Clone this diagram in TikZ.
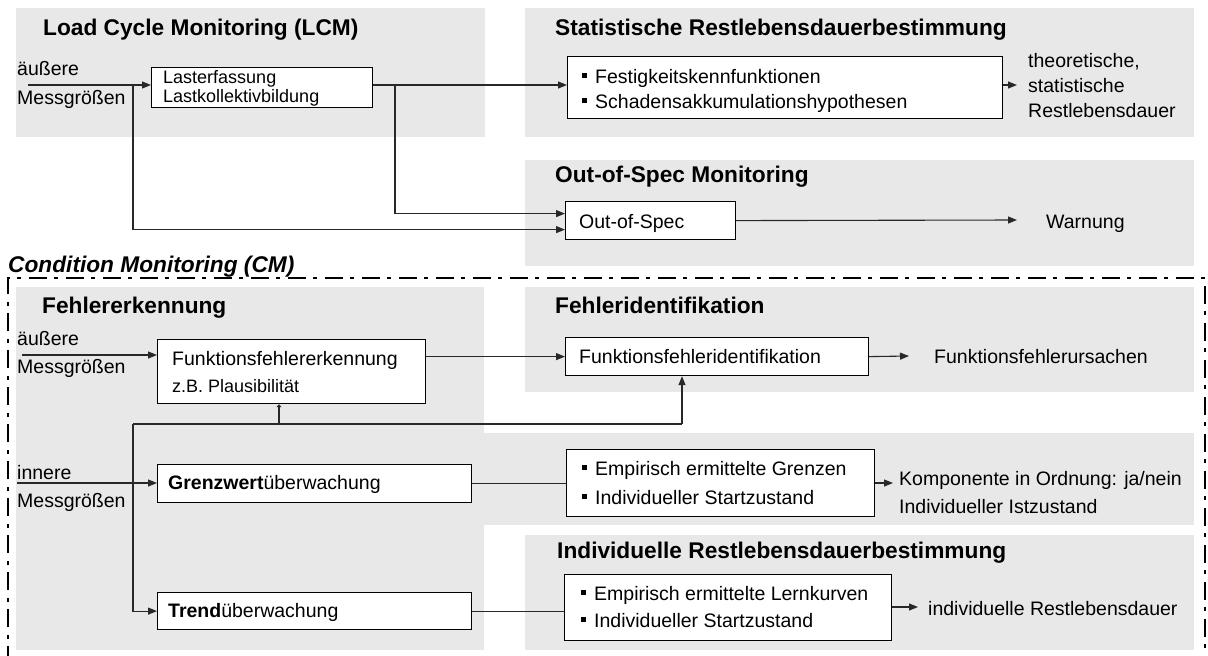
\documentclass[tikz,border=0pt]{standalone}
\usepackage{fontspec}
\setmainfont{Liberation Sans}
\usetikzlibrary{arrows.meta}
\definecolor{panelgray}{RGB}{232,232,232}
\definecolor{linecol}{RGB}{40,40,40}
\newcommand{\blt}{\rule[5.5pt]{4.5pt}{4.5pt}\hspace{8.5pt}}
\begin{document}
\begin{tikzpicture}[x=1pt,y=-1pt,
  panel/.style={fill=panelgray},
  box/.style={draw=black, line width=1.2pt, fill=white, rectangle, inner sep=0pt, anchor=north west},
  txt/.style={inner sep=0pt, anchor=base west, font=\fontsize{19.5}{23}\selectfont},
  smalltxt/.style={inner sep=0pt, anchor=base west, font=\fontsize{18}{22}\selectfont},
  ttl/.style={inner sep=0pt, anchor=base west, font=\fontsize{22.7}{27}\selectfont\bfseries},
  con/.style={draw=linecol, line width=1.1pt},
  arr/.style={draw=linecol, line width=1.1pt, -{Triangle[length=9pt,width=7pt]}},
  smallarr/.style={draw=linecol, line width=1.1pt, -{Triangle[length=3pt,width=5pt]}},
  cmborder/.style={draw=black, line width=2.2pt, dash pattern=on 18pt off 7pt on 4pt off 8pt}
]
\useasboundingbox (0,0) rectangle (1208,656);

% panels
\fill[panel] (16,8) rectangle (485,137);
\fill[panel] (525,8) rectangle (1194,137);
\fill[panel] (525,160) rectangle (1194,266);
\fill[panel] (16,287) rectangle (484,650);
\fill[panel] (525,287) rectangle (1194,392);
\fill[panel] (484,433) rectangle (1194,525);
\fill[panel] (525,535) rectangle (1194,650);

% condition monitoring border
\draw[cmborder] (8,664) -- (8,278) -- (1205,278) -- (1205,664);

% titles
\node[ttl] (tlcm) at (43,35) {Load Cycle Monitoring (LCM)};
\node[ttl] (tstat) at (555,35) {Statistische Restlebensdauerbestimmung};
\node[ttl] (toos) at (555,182) {Out-of-Spec Monitoring};
\node[ttl, font=\fontsize{22.7}{27}\selectfont\bfseries\itshape] (tcm) at (8,272) {Condition Monitoring (CM)};
\node[ttl] (tfe) at (42,313) {Fehlererkennung};
\node[ttl] (tfi) at (555,313) {Fehleridentifikation};
\node[ttl] (tirl) at (557,558) {Individuelle Restlebensdauerbestimmung};

% ---------- LCM ----------
\node[txt] (lcmA) at (17,75) {äußere};
\node[txt] (lcmB) at (17,104) {Messgrößen};
\node[box, minimum width=221pt, minimum height=40pt] (las) at (151,67) {};
\node[smalltxt] (lasA) at (163,83) {Lasterfassung};
\node[smalltxt] (lasB) at (163,102) {Lastkollektivbildung};

\node[box, minimum width=435pt, minimum height=62pt] (stat) at (567,56) {};
\node[txt] (statA) at (582,83) {\blt Festigkeitskennfunktionen};
\node[txt] (statB) at (582,108) {\blt Schadensakkumulationshypothesen};
\node[txt] (resA) at (1028,67) {theoretische,};
\node[txt] (resB) at (1028,92) {statistische};
\node[txt] (resC) at (1028,117) {Restlebensdauer};

\node[box, minimum width=170pt, minimum height=38pt] (oos) at (565,201) {};
\node[txt] (oosT) at (579,228) {Out-of-Spec};
\node[txt] (warn) at (1046,228) {Warnung};

\coordinate (lcmin) at (28,85);
\coordinate (b1) at (133,85);
\coordinate (b2) at (395,85);
\coordinate (statout) at (1017,85);
\coordinate (oosout) at (1017,220);

\draw[arr] (lcmin) -- (lcmin -| las.west);
\draw[arr] (b2 -| las.east) -- (b2 -| stat.west);
\draw[arr] (b1) |- ([yshift=-9pt]oos.west);
\draw[arr] (b2) |- ([yshift=7pt]oos.west);
\draw[arr] (statout -| stat.east) -- (statout);
\draw[arr] (oos.east) -- (oosout);

% ---------- CM ----------
\node[txt] (cmA) at (17,345) {äußere};
\node[txt] (cmB) at (17,373) {Messgrößen};
\node[box, minimum width=268pt, minimum height=64pt] (ferk) at (157,339) {};
\node[txt] (ferkA) at (172,365) {Funktionsfehlererkennung};
\node[smalltxt] (ferkB) at (172,392) {z.B. Plausibilität};

\node[box, minimum width=303pt, minimum height=38pt] (fid) at (565,337) {};
\node[txt] (fidT) at (579,363) {Funktionsfehleridentifikation};
\node[txt] (fidR) at (934,363) {Funktionsfehlerursachen};

\node[txt] (cmC) at (17,479) {innere};
\node[txt] (cmD) at (17,507) {Messgrößen};
\node[box, minimum width=314pt, minimum height=38pt] (grenz) at (157,464) {};
\node[txt] (grenzT) at (168,489) {\textbf{Grenzwert}überwachung};

\node[box, minimum width=308pt, minimum height=67pt] (grz) at (566,449) {};
\node[txt] (grzA) at (582,475) {\blt Empirisch ermittelte Grenzen};
\node[txt] (grzB) at (582,504) {\blt Individueller Startzustand};
\node[txt] (kompA) at (899,485) {Komponente in Ordnung: ja/nein};
\node[txt] (kompB) at (899,513) {Individueller Istzustand};

\node[box, minimum width=314pt, minimum height=37pt] (trend) at (157,592) {};
\node[txt] (trendT) at (168,617) {\textbf{Trend}überwachung};

\node[box, minimum width=327pt, minimum height=66pt] (lern) at (564,574) {};
\node[txt] (lernA) at (581,600) {\blt Empirisch ermittelte Lernkurven};
\node[txt] (lernB) at (581,627) {\blt Individueller Startzustand};
\node[txt] (irl) at (928,615) {individuelle Restlebensdauer};

\coordinate (cmin1) at (22,355);
\coordinate (cmin2) at (17,483);
\coordinate (h1) at (133,424);
\coordinate (h2) at (279,424);
\coordinate (h3) at (682,424);
\coordinate (fidout) at (909,356);
\coordinate (grzout) at (893,483);
\coordinate (lernout) at (918,607);

\draw[arr] (cmin1) -- (cmin1 -| ferk.west);
\draw[arr] (fid.west -| ferk.east) -- (fid.west);
\draw[arr] (fid.east) -- (fidout);
\draw[con] (h1) -- (h3);
\draw[smallarr] (h2) -- (h2 |- ferk.south);
\draw[arr] (h3) -- (h3 |- fid.south);
\draw[arr] (cmin2) -- (cmin2 -| grenz.west);
\draw[arr] (h1) |- (trend.west);
\draw[con] (grenz.east) -- (grenz.east -| grz.west);
\draw[arr] (grzout -| grz.east) -- (grzout);
\draw[con] (trend.east) -- (trend.east -| lern.west);
\draw[arr] (lernout -| lern.east) -- (lernout);
\end{tikzpicture}
\end{document}
